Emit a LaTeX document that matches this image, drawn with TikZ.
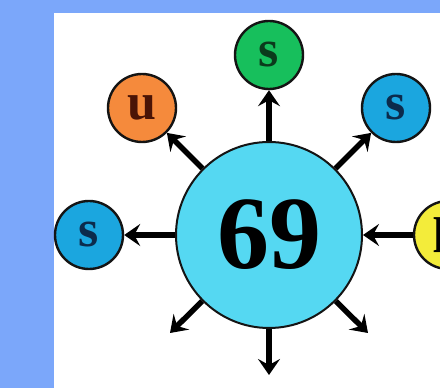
\documentclass[tikz,border=0pt]{standalone}
\usepackage{fontspec}
\setmainfont{Liberation Serif}
\usetikzlibrary{arrows.meta}
\definecolor{bgblue}{HTML}{7BA7FA}
\definecolor{core}{HTML}{55D8F2}
\definecolor{cgreen}{HTML}{17BF5C}
\definecolor{corange}{HTML}{F58A3C}
\definecolor{cblue}{HTML}{1BA6DF}
\definecolor{cyellow}{HTML}{F3EC3A}
\definecolor{tgreen}{HTML}{0B3A1C}
\definecolor{tbrown}{HTML}{4A1406}
\definecolor{tnavy}{HTML}{0C2B4C}
\definecolor{outl}{HTML}{141414}
\tikzset{
  x=1pt,y=1pt,
  small/.style={circle, draw=outl, line width=2.4pt, minimum size=68pt, inner sep=0pt,
    font=\fontsize{52}{52}\selectfont\bfseries},
  big/.style={circle, draw=outl, line width=2pt, fill=core, minimum size=186pt, inner sep=0pt,
    font=\fontsize{104}{104}\selectfont\bfseries},
  arr/.style={line width=5.5pt, black, -{Stealth[length=16pt,width=22pt,inset=6pt]}}
}
\begin{document}
\begin{tikzpicture}
\useasboundingbox (0,0) rectangle (440,388);
\fill[bgblue] (0,0) rectangle (440,388);
\fill[white] (54,0) rectangle (440,375);
\begin{scope}
\clip (0,0) rectangle (440,388);
\node[big] (c) at (269,153) {\raisebox{-2pt}{69}};
\node[small, fill=cgreen, text=tgreen] (top) at (269,333) {s};
\node[small, fill=corange, text=tbrown] (ul) at (142,280) {u};
\node[small, fill=cblue, text=tnavy] (ur) at (396,280) {s};
\node[small, fill=cblue, text=tnavy] (l) at (89,153) {s};
\node[small, fill=cyellow, text=black] (r) at (448,153) {p};
\coordinate (bl) at (170,55);
\coordinate (br) at (368,55);
\coordinate (b) at (269,13);
\draw[arr] (c) -- (top);
\draw[arr] (c) -- (ul);
\draw[arr] (c) -- (ur);
\draw[arr] (c) -- (l);
\draw[arr] (r) -- (c);
\draw[arr] (c) -- (bl);
\draw[arr] (c) -- (br);
\draw[arr] (c) -- (b);
\end{scope}
\end{tikzpicture}
\end{document}
